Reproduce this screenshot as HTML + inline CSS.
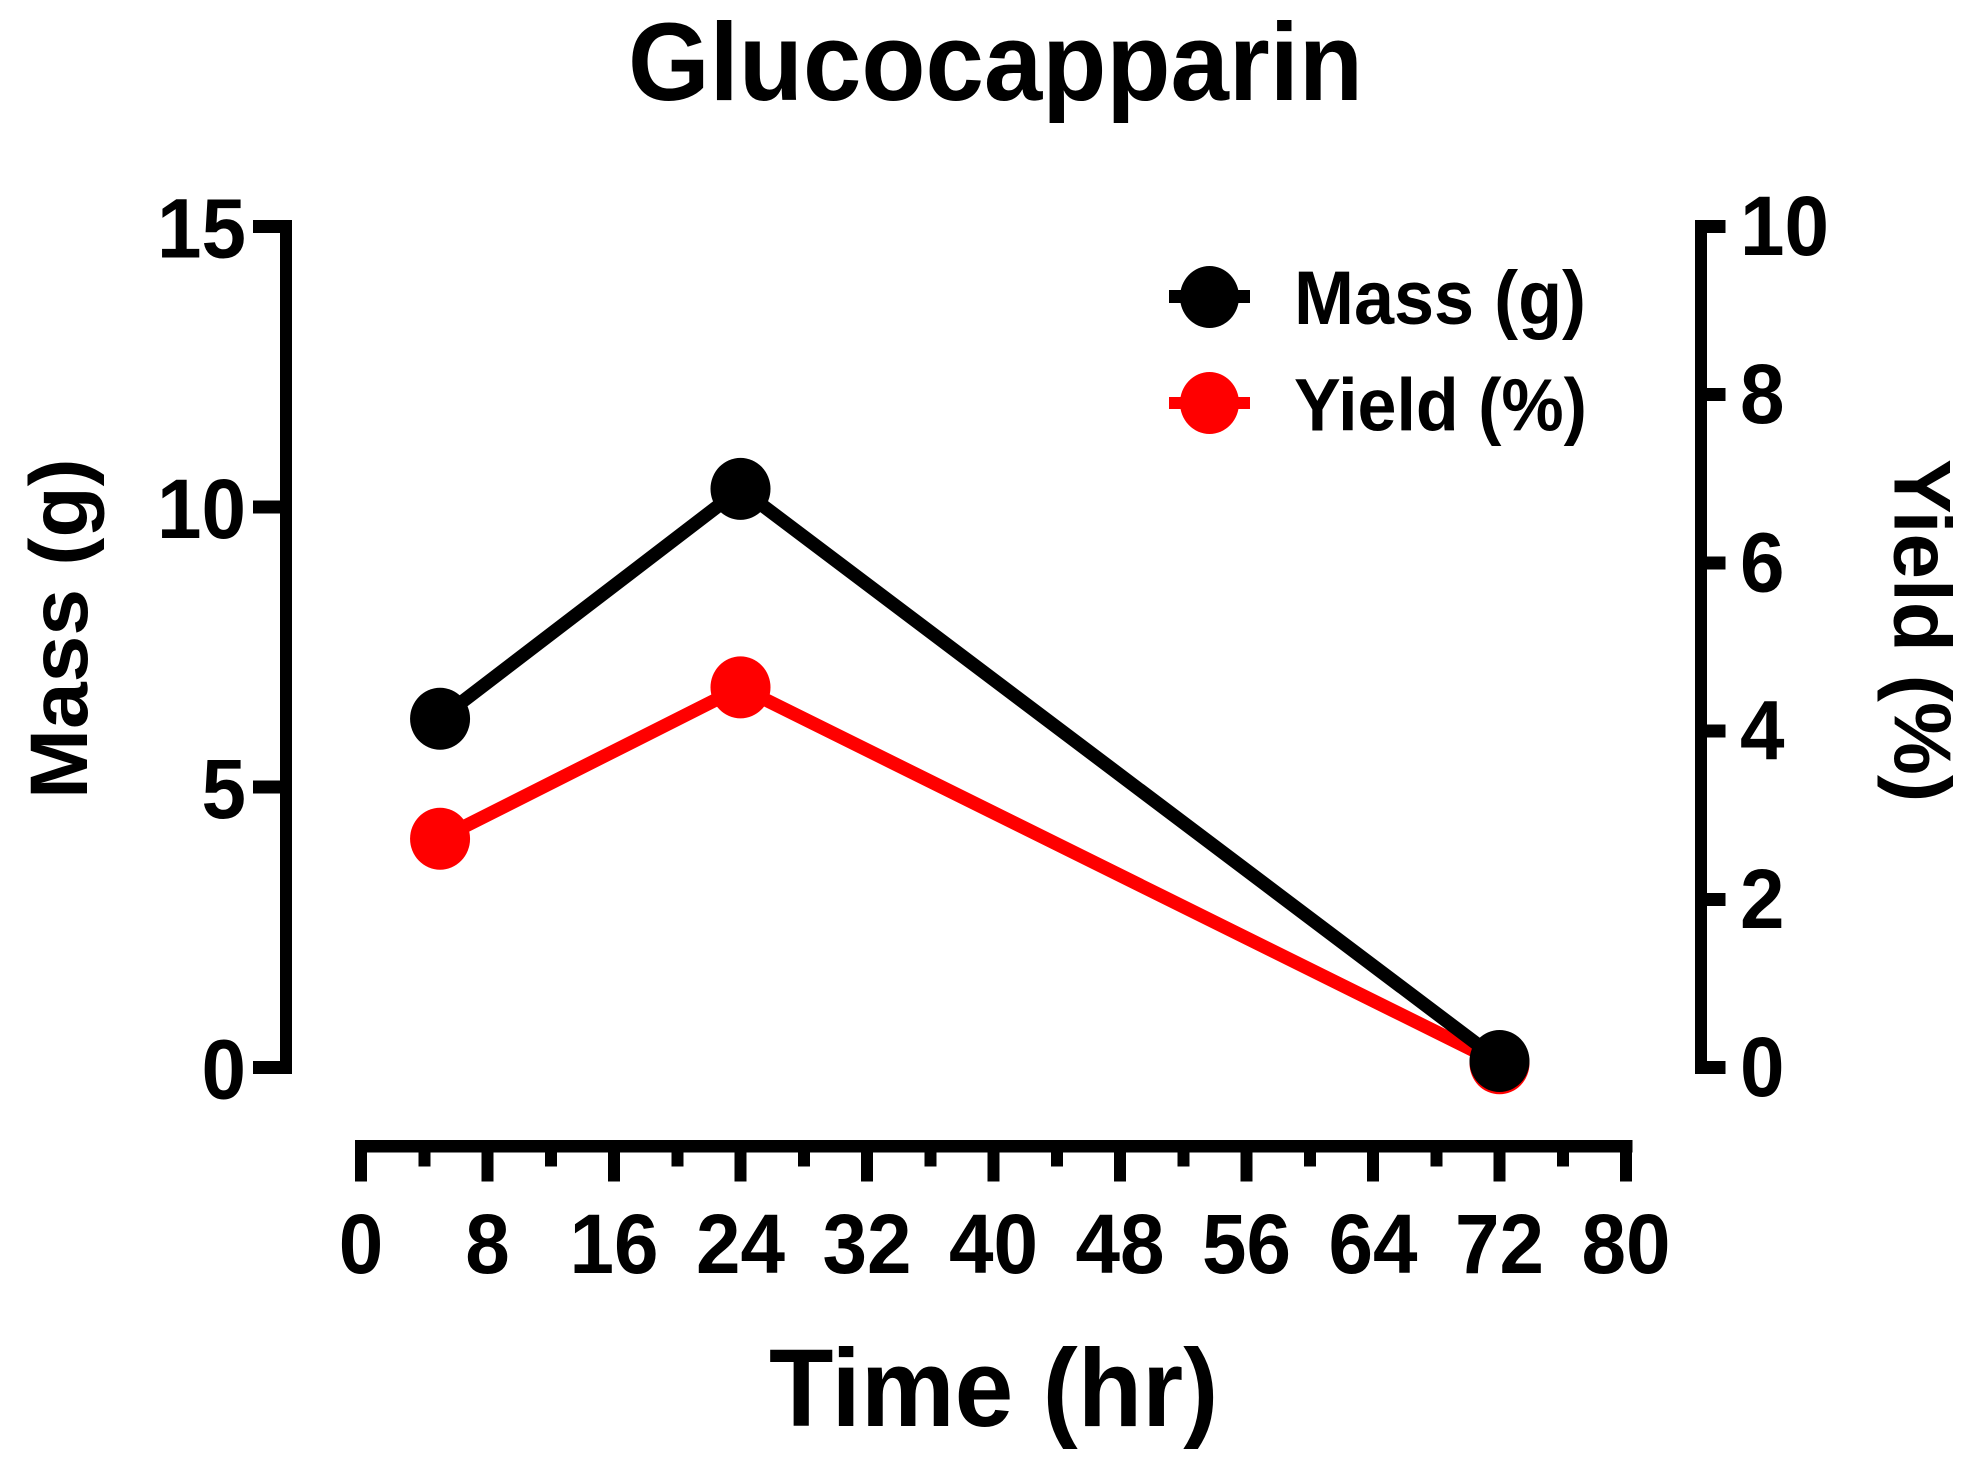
<!DOCTYPE html>
<html lang="en">
<head>
<meta charset="utf-8">
<title>Glucocapparin</title>
<style>
html,body{margin:0;padding:0;background:#fff;}
svg{display:block;}
text{font-family:"Liberation Sans",Arial,sans-serif;font-weight:700;fill:#000;}
</style>
</head>
<body>
<svg id="chart" width="1979" height="1474" viewBox="0 0 1979 1474" xmlns="http://www.w3.org/2000/svg">
  <rect x="0" y="0" width="1979" height="1474" fill="#fff"/>
  <text font-size="105" transform="translate(628,100) scale(1,1.05)">Glucocapparin</text>
  <text font-size="105.5" transform="translate(769,1426) scale(1,1.05)">Time (hr)</text>
  <text font-size="84" transform="translate(87,799) rotate(-90) scale(1,0.97)">Mass (g)</text>
  <text font-size="82" transform="translate(1894.5,459) rotate(90) scale(1,0.98)">Yield (%)</text>

  <g id="axes" shape-rendering="crispEdges"></g>
  <g id="tick-labels"></g>
  <g id="series"></g>

  <g>
    <g>
      <rect x="1169" y="290" width="81" height="13" fill="#000" shape-rendering="crispEdges"/>
      <ellipse cx="1209.5" cy="297" rx="29.5" ry="31" fill="#000"/>
      <text font-size="72" transform="translate(1294,324) scale(1,1.06)">Mass (g)</text>
    </g>
    <g>
      <rect x="1169" y="397" width="81" height="12" fill="#ff0000" shape-rendering="crispEdges"/>
      <ellipse cx="1209.5" cy="403" rx="29.5" ry="31" fill="#ff0000"/>
      <text font-size="70" transform="translate(1294,430.7) scale(1,1.06)">Yield (%)</text>
    </g>
  </g>
</svg>
<script>
// Chart data
const timeHours = [5, 24, 72];
const massGrams = [6.22, 10.32, 0.116];
const yieldPercent = [2.72, 4.52, 0.05];
const xTickLabels = [0, 8, 16, 24, 32, 40, 48, 56, 64, 72, 80];
const xMinorTicks = [4, 12, 20, 28, 36, 44, 52, 60, 68, 76];
const leftTickLabels = [0, 5, 10, 15];
const rightTickLabels = [0, 2, 4, 6, 8, 10];

// Axis functions
function xPx(v) { return 361 + v * 15.8125; }
function yLeft(v) { return 1067.5 - v * 56.07; }
function yRight(v) { return 1067.5 - v * 84.1; }

const NS = 'http://www.w3.org/2000/svg';
const axes = document.getElementById('axes');
const labels = document.getElementById('tick-labels');
const series = document.getElementById('series');

function makeRect(parent, x, y, w, h) {
  const r = document.createElementNS(NS, 'rect');
  r.setAttribute('x', x);
  r.setAttribute('y', y);
  r.setAttribute('width', w);
  r.setAttribute('height', h);
  r.setAttribute('fill', '#000');
  parent.appendChild(r);
  return r;
}
function makeText(parent, str, x, y, anchor) {
  const t = document.createElementNS(NS, 'text');
  t.textContent = str;
  t.setAttribute('font-size', '80');
  t.setAttribute('text-anchor', anchor);
  t.setAttribute('transform', 'translate(' + x + ',' + y + ') scale(1,1.06)');
  parent.appendChild(t);
  return t;
}

// Left axis
const leftLine = makeRect(axes, 280, yLeft(15) - 6.5, 12, yLeft(0) - yLeft(15) + 13);


leftTickLabels.forEach(function (v) {
  const tick = makeRect(axes, 253, yLeft(v) - 6.5, 27, 13);
  
  
  const label = makeText(labels, String(v), 246, yLeft(v) + 31, 'end');
  
  
});

// Right axis
const rightLine = makeRect(axes, 1695, yRight(10) - 6.5, 12, yRight(0) - yRight(10) + 13);


rightTickLabels.forEach(function (v) {
  const tick = makeRect(axes, 1707, yRight(v) - 6.5, 18.5, 13);
  
  
  const label = makeText(labels, String(v), 1740, yRight(v) + 28.5, 'start');
  
  
});

// Bottom axis
const bottomLine = makeRect(axes, xPx(0) - 6, 1140, xPx(80) - xPx(0) + 12.5, 12.7);


xTickLabels.forEach(function (v) {
  const tick = makeRect(axes, xPx(v) - 6, 1152, 12, 29.7);
  
  
  const label = makeText(labels, String(v), xPx(v), 1273, 'middle');
  
  
});
xMinorTicks.forEach(function (v) {
  const tick = makeRect(axes, xPx(v) - 6, 1152, 12, 14.7);
  
  
});

// Series
function drawSeries(name, values, yFn, color) {
  const pts = timeHours.map(function (t, i) { return xPx(t) + ',' + yFn(values[i]); }).join(' ');
  const line = document.createElementNS(NS, 'polyline');
  
  
  line.setAttribute('points', pts);
  line.setAttribute('fill', 'none');
  line.setAttribute('stroke', color);
  line.setAttribute('stroke-width', '13.5');
  series.appendChild(line);
  timeHours.forEach(function (t, i) {
    const m = document.createElementNS(NS, 'ellipse');
    
    
    m.setAttribute('cx', xPx(t));
    m.setAttribute('cy', yFn(values[i]));
    m.setAttribute('rx', '30');
    m.setAttribute('ry', '31');
    m.setAttribute('fill', color);
    series.appendChild(m);
  });
}
drawSeries('yield', yieldPercent, yRight, '#ff0000');
drawSeries('mass', massGrams, yLeft, '#000000');
</script>
</body>
</html>
